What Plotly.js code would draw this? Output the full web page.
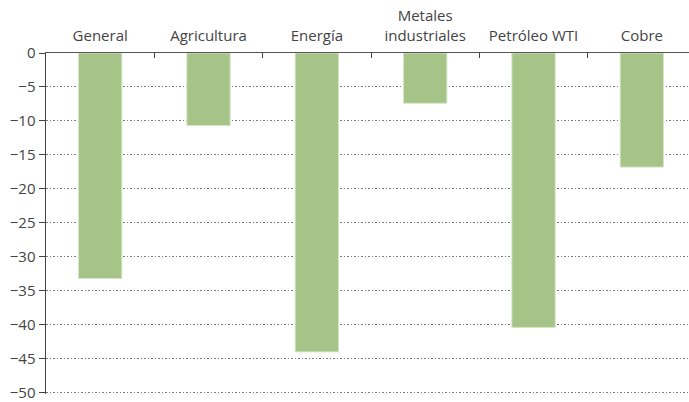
<!DOCTYPE html>
<html>
<head>
<meta charset="utf-8">
<script src="https://cdn.plot.ly/plotly-3.0.1.min.js"></script>
<style>html,body{margin:0;padding:0;background:#fff;}#chart{width:689px;height:402px;}</style>
</head>
<body>
<div id="chart"></div>
<script>
const categories = ["General", "Agricultura", "Energía", "Metales<br>industriales", "Petróleo WTI", "Cobre"];
const values = [-33.2, -10.7, -44.0, -7.4, -40.4, -16.8];
const yTickValues = [0, -5, -10, -15, -20, -25, -30, -35, -40, -45, -50];

const trace = {
  type: "bar",
  x: categories,
  y: values,
  width: 0.4,
  marker: {color: "#a6c487", line: {color: "#d6e5c8", width: 1}},
  hoverinfo: "skip"
};

const layout = {
  width: 689,
  height: 402,
  margin: {l: 46, r: 0, t: 53, b: 8},
  paper_bgcolor: "#fff",
  plot_bgcolor: "#fff",
  showlegend: false,
  font: {family: "Open Sans, sans-serif", size: 15, color: "#444"},
  xaxis: {
    type: "category",
    side: "top",
    range: [-0.5, 5.435],
    ticks: "inside",
    tickson: "boundaries",
    ticklen: 5,
    tickcolor: "#444",
    showline: true,
    linecolor: "#555",
    linewidth: 1.5,
    showgrid: false,
    fixedrange: true,
    ticklabelstandoff: 5
  },
  yaxis: {
    range: [-50.2, 0],
    tickvals: yTickValues,
    ticks: "outside",
    ticklen: 6,
    tickcolor: "#444",
    showline: true,
    linecolor: "#444",
    linewidth: 1.5,
    showgrid: true,
    gridcolor: "#7a7a7a",
    griddash: "1.5px,2px",
    gridwidth: 1,
    zeroline: false,
    fixedrange: true,
    tickfont: {size: 15}
  },
  bargap: 0.6
};

Plotly.newPlot("chart", [trace], layout, {displayModeBar: false, staticPlot: true});
</script>
</body>
</html>
